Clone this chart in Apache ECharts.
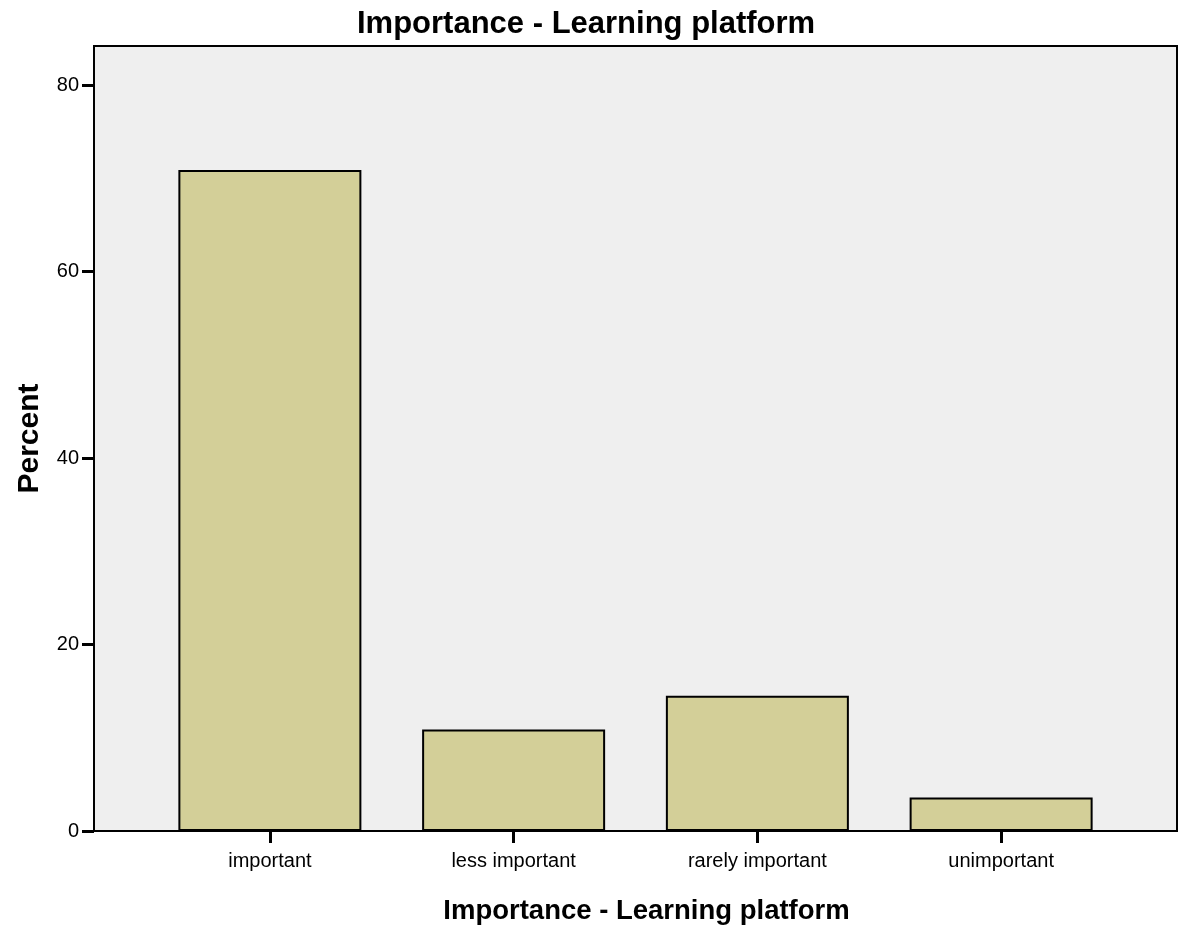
<!DOCTYPE html>
<html>
<head>
<meta charset="utf-8">
<script src="https://cdn.jsdelivr.net/npm/echarts@6/dist/echarts.min.js"></script>
<style>
html,body{margin:0;padding:0;background:#fff;}
#chart{width:1182px;height:926px;}
</style>
</head>
<body>
<div id="chart"></div>
<script>
const titleText = 'Importance - Learning platform';
const categories = ['important', 'less important', 'rarely important', 'unimportant'];
const percentValues = [70.9, 10.9, 14.5, 3.6];
const yTicks = [0, 20, 40, 60, 80];
const yMax = 84.2;

const FONT = '"Liberation Sans", Arial, sans-serif';
const chart = echarts.init(document.getElementById('chart'), null, {renderer: 'canvas'});

chart.setOption({
  animation: false,
  backgroundColor: '#ffffff',
  title: {
    text: titleText,
    left: 352,
    top: 4,
    textStyle: {fontFamily: FONT, fontSize: 31, fontWeight: 'bold', color: '#000'}
  },
  grid: [
    {left: 94, top: 46, right: 5, bottom: 95, outerBoundsMode: 'none', containLabel: false, show: true, backgroundColor: '#efefef', borderColor: '#000', borderWidth: 2},
    {left: 148, top: 46, right: 59, bottom: 95, outerBoundsMode: 'none', containLabel: false}
  ],
  xAxis: [
    {gridIndex: 0, type: 'value', min: 0, max: 1, show: false},
    {
      gridIndex: 1, type: 'category', data: categories,
      axisLine: {show: false},
      axisTick: {show: true, alignWithLabel: true, length: 12, lineStyle: {color: '#000', width: 3}},
      axisLabel: {fontFamily: FONT, fontSize: 20, color: '#000', margin: 20},
      name: titleText, nameLocation: 'middle', nameGap: 66,
      nameTextStyle: {fontFamily: FONT, fontSize: 27.5, fontWeight: 'bold', color: '#000', padding: [0, 0, 0, 22]}
    }
  ],
  yAxis: [
    {
      gridIndex: 0, type: 'value', min: 0, max: yMax, interval: 20,
      axisLine: {show: true, lineStyle: {color: '#000', width: 2}},
      axisTick: {show: true, length: 12, lineStyle: {color: '#000', width: 3}, customValues: yTicks},
      axisLabel: {fontFamily: FONT, fontSize: 20, color: '#000', margin: 15, customValues: yTicks},
      splitLine: {show: false},
      name: 'Percent', nameLocation: 'middle', nameGap: 49,
      nameTextStyle: {fontFamily: FONT, fontSize: 30, fontWeight: 'bold', color: '#000'}
    },
    {gridIndex: 1, type: 'value', min: 0, max: yMax, show: false}
  ],
  series: [{
    type: 'bar',
    xAxisIndex: 1, yAxisIndex: 1,
    data: percentValues,
    barWidth: 183,
    itemStyle: {color: '#d3cf98', borderColor: '#000', borderWidth: 2}
  }]
});
</script>
</body>
</html>
